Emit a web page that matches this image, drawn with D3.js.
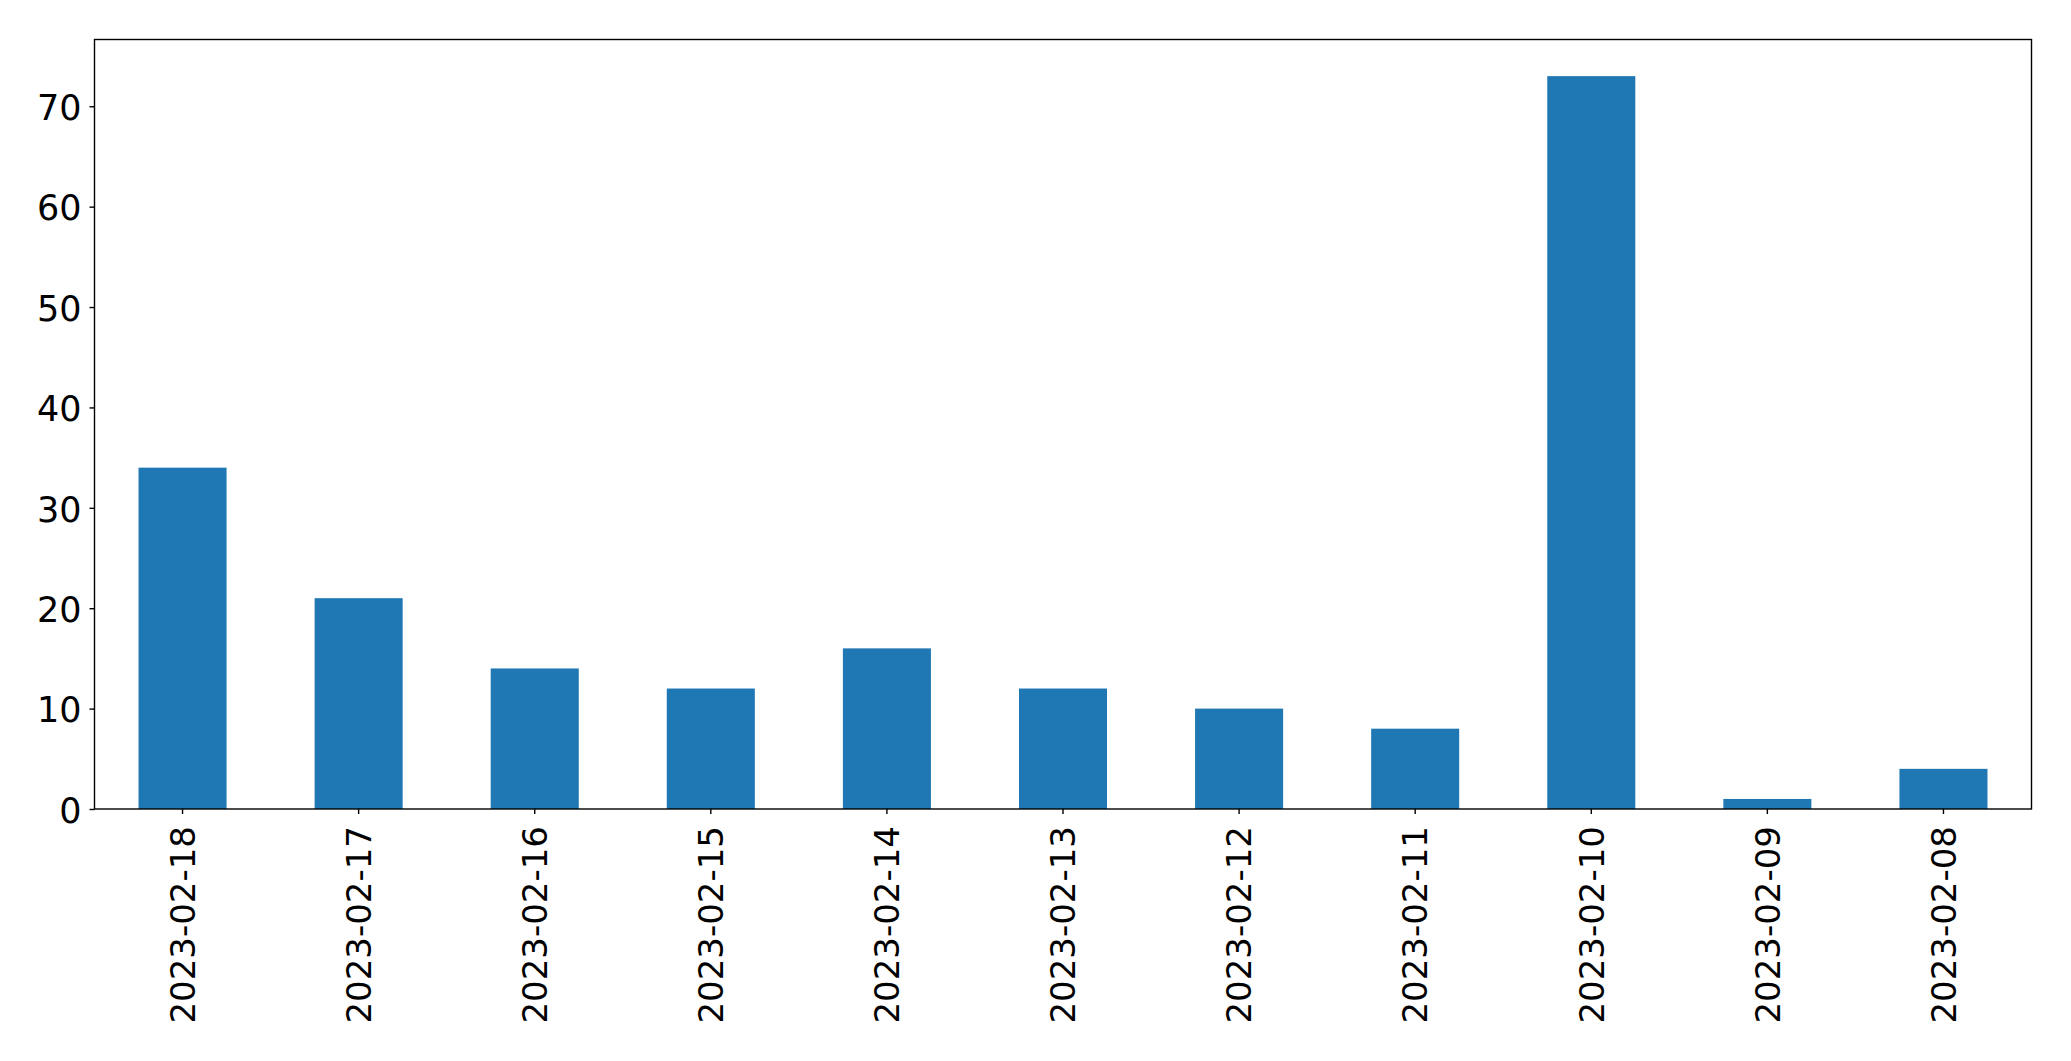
<!DOCTYPE html>
<html>
<head>
<meta charset="utf-8">
<script src="https://cdn.jsdelivr.net/npm/d3@7"></script>
<style>
html,body{margin:0;padding:0;background:#fff;}
svg{display:block;}
text{font-family:"DejaVu Sans",sans-serif;fill:#000;}
</style>
</head>
<body>
<svg id="chart" width="2071" height="1061"></svg>
<script>
const categories = ["2023-02-18","2023-02-17","2023-02-16","2023-02-15","2023-02-14","2023-02-13","2023-02-12","2023-02-11","2023-02-10","2023-02-09","2023-02-08"];
const values = [34, 21, 14, 12, 16, 12, 10, 8, 73, 1, 4];
const yTicks = [0, 10, 20, 30, 40, 50, 60, 70];

const svg = d3.select("#chart");
const mLeft = 94.5, mRight = 2031.5, mTop = 39.5, mBottom = 809;

const x = d3.scaleBand().domain(categories).range([mLeft, mRight]).paddingInner(0.5).paddingOuter(0.25);
const y = d3.scaleLinear().domain([0, d3.max(values) * 1.05]).range([mBottom, mTop]);

svg.append("g").selectAll("rect").data(values).join("rect")
  .attr("x", (d, i) => x(categories[i]))
  .attr("width", x.bandwidth())
  .attr("y", d => y(d))
  .attr("height", d => y(0) - y(d))
  .attr("fill", "#1f77b4");

// frame
svg.append("rect").attr("x", mLeft).attr("y", mTop).attr("width", mRight - mLeft).attr("height", mBottom - mTop)
  .attr("fill", "none").attr("stroke", "#000").attr("stroke-width", 1.4);

// y axis
const yAxis = svg.append("g").attr("transform", `translate(${mLeft},0)`)
  .call(d3.axisLeft(y).tickValues(yTicks).tickSize(5).tickPadding(8).tickFormat(d3.format("d")));
yAxis.select(".domain").remove();
yAxis.selectAll("line").attr("stroke", "#000").attr("stroke-width", 1.4);
yAxis.selectAll("text").attr("font-size", 35).attr("font-family", "DejaVu Sans").attr("dy", "0.38em");

// x axis
const xAxis = svg.append("g").attr("transform", `translate(0,${mBottom})`)
  .call(d3.axisBottom(x).tickSize(5).tickPadding(0));
xAxis.select(".domain").remove();
xAxis.selectAll("line").attr("stroke", "#000").attr("stroke-width", 1.4);
xAxis.selectAll("text")
  .attr("font-size", 34).attr("font-family", "DejaVu Sans")
  .attr("text-anchor", "end")
  .attr("transform", "translate(0,17) rotate(-90)")
  .attr("x", 0).attr("y", 0).attr("dy", "0.36em");
</script>
</body>
</html>
